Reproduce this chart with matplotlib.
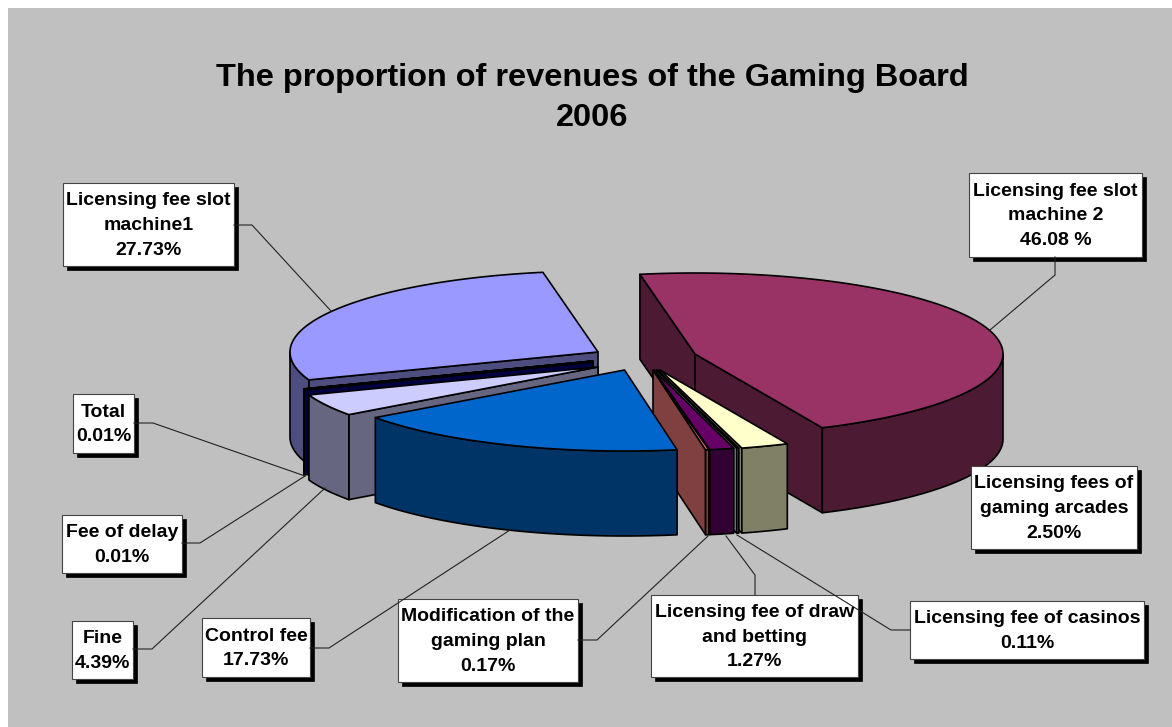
import numpy as np
import matplotlib
matplotlib.use("Agg")
import matplotlib.pyplot as plt
from matplotlib.patches import Polygon, Rectangle

plt.rcParams['font.family'] = ['Liberation Sans', 'DejaVu Sans']

# slices, clockwise from the start of the largest one
categories = ['Licensing fee slot machine 2', 'Licensing fees of gaming arcades',
              'Licensing fee of casinos', 'Licensing fee of draw and betting',
              'Modification of the gaming plan', 'Control fee', 'Fine',
              'Fee of delay', 'Total', 'Licensing fee slot machine1']
shares = [46.08, 2.50, 0.11, 1.27, 0.17, 17.73, 4.39, 0.01, 0.01, 27.73]
colors = ['#993366', '#FFFFCC', '#CCFFFF', '#660066', '#FF8080',
          '#0066CC', '#CCCCFF', '#000080', '#FF00FF', '#9999FF']
label_texts = ['Licensing fee slot\nmachine 2\n46.08 %', 'Licensing fees of\ngaming arcades\n2.50%',
               'Licensing fee of casinos\n0.11%', 'Licensing fee of draw\nand betting\n1.27%',
               'Modification of the\ngaming plan\n0.17%', 'Control fee\n17.73%', 'Fine\n4.39%',
               'Fee of delay\n0.01%', 'Total\n0.01%', 'Licensing fee slot\nmachine1\n27.73%']

# layout, in pixels of the picture
START_ANGLE = 100.3
RX, RY, DEPTH = 308, 81, 85
centers = [(695, 354), (660, 370), (657, 370), (654, 370), (653, 370),
           (624.5, 370), (598, 367), (593, 362), (593, 361), (598, 352)]
boxes = [(969, 173, 1142, 257), (971, 466, 1137, 549), (910, 601, 1144, 659),
         (651, 595, 858, 677), (398, 599, 578, 682), (202, 618, 310, 677),
         (72, 621, 133, 679), (62, 515, 182, 573), (73, 394, 134, 453),
         (63, 183, 234, 266)]
leaders = [[(1055, 257), (1055, 275), (990, 330)],
           None,
           [(910, 630), (891, 630), (737, 535)],
           [(755, 595), (755, 575), (726, 536)],
           [(578, 640), (597, 640), (708, 536)],
           [(310, 648), (329, 648), (510, 530)],
           [(133, 649), (152, 649), (325, 488)],
           [(182, 543), (200, 543), (305, 476)],
           [(134, 423), (153, 423), (305, 476)],
           [(234, 225), (252, 225), (331, 311)]]
# back to front
draw_order = [9, 8, 7, 6, 0, 1, 2, 3, 4, 5]


def rim(center, a1, a2, drop=0):
    t = np.radians(np.linspace(a1, a2, 120))
    return np.column_stack([center[0] + RX * np.cos(t),
                            center[1] - RY * np.sin(t) + drop])


def side_colour(c):
    return tuple(v * 0.5 for v in matplotlib.colors.to_rgb(c))


def draw_slice(ax, center, a1, a2, color):
    edge = dict(edgecolor='black', linewidth=1.2, joinstyle='round')
    dark = side_colour(color)
    # flat faces that look towards the viewer
    for ang, normal in ((a1, a1 + 90), (a2, a2 - 90)):
        if np.sin(np.radians(normal)) < 0:
            p = rim(center, ang, ang)[0]
            face = [center, p, (p[0], p[1] + DEPTH), (center[0], center[1] + DEPTH)]
            ax.add_patch(Polygon(face, facecolor=dark, **edge))
    # outer wall, only the front half of the ellipse shows
    turns = np.arange(-720, 721, 360)
    for k in turns:
        lo = max(a2, k - 180)
        hi = min(a1, k)
        if hi > lo:
            top = rim(center, hi, lo)
            wall = np.vstack([top, rim(center, lo, hi, DEPTH)])
            ax.add_patch(Polygon(wall, facecolor=dark, **edge))
    ax.add_patch(Polygon(np.vstack([[center], rim(center, a1, a2)]), facecolor=color, **edge))


fig = plt.figure(figsize=(11.72, 7.27), dpi=100, facecolor='white')
ax = fig.add_axes([0, 0, 1, 1])
ax.set_xlim(0, 1172)
ax.set_ylim(727, 0)
ax.axis('off')
ax.add_patch(Rectangle((8, 8), 1164, 719, facecolor='#C0C0C0', edgecolor='none'))

ends = START_ANGLE - np.cumsum(shares) * 3.6
starts = np.concatenate([[START_ANGLE], ends[:-1]])

for i in draw_order:
    draw_slice(ax, centers[i], starts[i], ends[i], colors[i])

for path in leaders:
    if path:
        xs, ys = zip(*path)
        ax.plot(xs, ys, color='#222222', linewidth=0.8, solid_joinstyle='miter')

for box, text in zip(boxes, label_texts):
    x0, y0, x1, y1 = box
    ax.add_patch(Rectangle((x0 + 3.5, y0 + 3.5), x1 - x0, y1 - y0, facecolor='black', edgecolor='black', linewidth=0.5))
    ax.add_patch(Rectangle((x0, y0), x1 - x0, y1 - y0, facecolor='white', edgecolor='#444444', linewidth=0.8))
    ax.text((x0 + x1) / 2, (y0 + y1) / 2 + 1, text, ha='center', va='center', fontsize=14,
            fontweight='bold', color='black', linespacing=1.58)

ax.text(592, 98, 'The proportion of revenues of the Gaming Board\n2006', ha='center', va='center',
        fontsize=23.4, fontweight='bold', color='black', linespacing=1.45)

fig.savefig('out.png', dpi=100, facecolor='white')
